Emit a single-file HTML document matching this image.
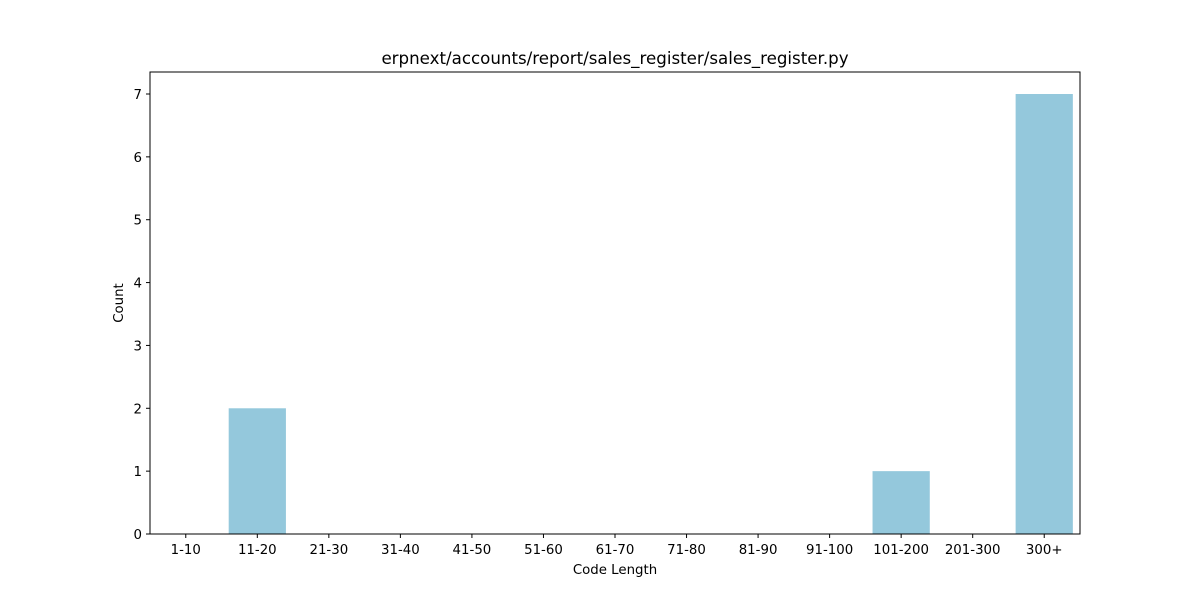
<!DOCTYPE html>
<html><head><meta charset="utf-8"><style>
body{margin:0;background:#fff;}
svg{display:block;font-family:"DejaVu Sans","Liberation Sans",sans-serif;}
</style></head><body>
<svg id="chart" width="1200" height="600">
<rect width="1200" height="600" fill="#fff"/>
<text x="615" y="64" font-size="16.67" text-anchor="middle">erpnext/accounts/report/sales_register/sales_register.py</text>
<g id="bars"></g>
<g id="xticks"></g>
<g id="yticks"></g>
<rect x="150" y="72" width="930" height="462" fill="none" stroke="#000" stroke-width="1"/>
<text x="615" y="574" font-size="13.33" text-anchor="middle">Code Length</text>
<text x="123" y="303" font-size="13.33" text-anchor="middle" transform="rotate(-90 123 303)">Count</text>
</svg>
<script>
const categories=["1-10","11-20","21-30","31-40","41-50","51-60","61-70","71-80","81-90","91-100","101-200","201-300","300+"];
const counts=[0,2,0,0,0,0,0,0,0,0,1,0,7];
const yTicks=[0,1,2,3,4,5,6,7];
const NS="http://www.w3.org/2000/svg";
const L=150,R=1080,T=72,B=534,yMax=7.35;
const step=(R-L)/categories.length;
const xc=i=>L+(i+0.5)*step;
const y=v=>B-v/yMax*(B-T);
const bars=document.getElementById('bars'),xt=document.getElementById('xticks'),yt=document.getElementById('yticks');
categories.forEach((c,i)=>{
  const r=document.createElementNS(NS,'rect');
  r.setAttribute('x',xc(i)-0.4*step);r.setAttribute('width',0.8*step);
  r.setAttribute('y',y(counts[i]));r.setAttribute('height',B-y(counts[i]));
  r.setAttribute('fill','#94c8dc');
  
  
  bars.appendChild(r);
  const l=document.createElementNS(NS,'line');
  l.setAttribute('x1',xc(i));l.setAttribute('x2',xc(i));l.setAttribute('y1',B);l.setAttribute('y2',B+4);l.setAttribute('stroke','#000');
  
  
  xt.appendChild(l);
  const t=document.createElementNS(NS,'text');
  t.setAttribute('x',xc(i));t.setAttribute('y',554);t.setAttribute('font-size','13.33');t.setAttribute('text-anchor','middle');t.textContent=c;
  
  
  xt.appendChild(t);
});
yTicks.forEach(v=>{
  const l=document.createElementNS(NS,'line');
  l.setAttribute('x1',L-4);l.setAttribute('x2',L);l.setAttribute('y1',y(v));l.setAttribute('y2',y(v));l.setAttribute('stroke','#000');
  
  
  yt.appendChild(l);
  const t=document.createElementNS(NS,'text');
  t.setAttribute('x',L-8);t.setAttribute('y',y(v)+5);t.setAttribute('font-size','13.33');t.setAttribute('text-anchor','end');t.textContent=v;
  
  
  yt.appendChild(t);
});
</script>
</body></html>
